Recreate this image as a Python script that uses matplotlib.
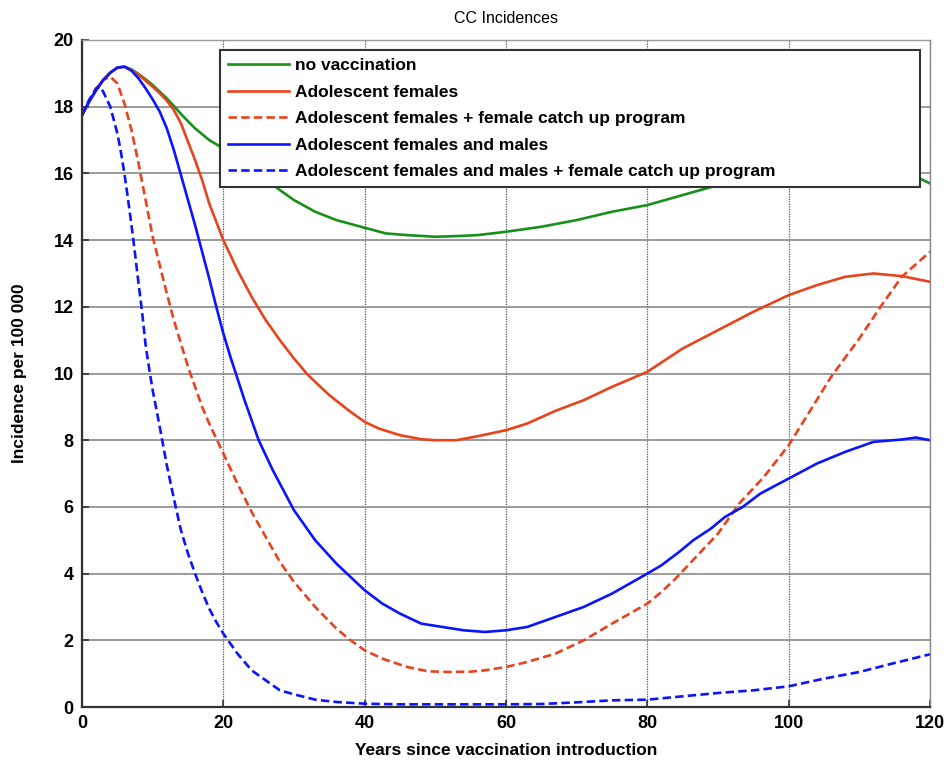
import matplotlib
matplotlib.use('Agg')
import matplotlib.pyplot as plt

plt.rcParams['font.family'] = ['Liberation Sans', 'DejaVu Sans']

# years since introduction / incidence per 100 000, one pair per scenario
no_vacc_x = [0, 1, 2, 3, 4, 5, 6, 7, 8, 9, 10, 11, 12, 13, 14, 16, 18, 20, 22, 25, 28, 30, 33, 36, 40,
             43, 46, 50, 53, 56, 60, 65, 70, 75, 80, 85, 90, 95, 100, 105, 110, 115, 118, 120]
no_vacc_y = [17.75, 18.15, 18.5, 18.8, 19.02, 19.17, 19.2, 19.12, 18.98, 18.82, 18.65, 18.45, 18.25,
             18.02, 17.78, 17.35, 17.0, 16.75, 16.45, 16.0, 15.5, 15.2, 14.85, 14.6, 14.37, 14.2, 14.15,
             14.1, 14.12, 14.15, 14.25, 14.4, 14.6, 14.85, 15.05, 15.35, 15.65, 15.85, 16.0, 16.1,
             16.1, 16.0, 15.9, 15.7]

fem_x = [0, 1, 2, 3, 4, 5, 6, 7, 8, 9, 10, 11, 12, 13, 14, 15, 16, 17, 18, 20, 22, 24, 26, 28, 30, 32,
         35, 38, 40, 42, 45, 48, 50, 53, 56, 60, 63, 67, 71, 75, 80, 85, 90, 95, 100, 104, 108, 112,
         116, 120]
fem_y = [17.75, 18.15, 18.5, 18.8, 19.02, 19.17, 19.2, 19.1, 18.96, 18.78, 18.6, 18.4, 18.18, 17.9,
         17.5, 16.95, 16.4, 15.8, 15.1, 14.0, 13.1, 12.3, 11.6, 11.0, 10.45, 9.95, 9.35, 8.85, 8.55,
         8.35, 8.15, 8.03, 8.0, 8.0, 8.12, 8.3, 8.5, 8.88, 9.2, 9.6, 10.05, 10.75, 11.3, 11.85, 12.35,
         12.65, 12.9, 13.0, 12.92, 12.75]

fem_cu_x = [0, 1, 2, 3, 4, 5, 6, 7, 8, 9, 10, 11, 12, 13, 14, 15, 16, 17, 18, 20, 22, 24, 26, 28, 30,
            33, 36, 38, 40, 42.5, 46, 49, 52, 55, 57, 60, 63, 67, 71, 75, 80, 82, 84, 86, 88, 90, 93,
            96.5, 100, 102.5, 106, 110, 113, 116, 120]
fem_cu_y = [17.75, 18.15, 18.55, 18.8, 18.9, 18.7, 18.1, 17.3, 16.3, 15.2, 14.1, 13.25, 12.4, 11.6,
            10.9, 10.2, 9.6, 9.0, 8.5, 7.6, 6.7, 5.85, 5.1, 4.35, 3.75, 3.0, 2.35, 2.0, 1.7, 1.45, 1.2,
            1.07, 1.05, 1.06, 1.1, 1.2, 1.35, 1.6, 2.0, 2.5, 3.1, 3.45, 3.85, 4.3, 4.75, 5.2, 6.1, 6.9,
            7.85, 8.7, 9.9, 11.05, 12.0, 12.9, 13.65]

fem_male_x = [0, 1, 2, 3, 4, 5, 6, 7, 8, 9, 10, 11, 12, 13, 14, 15, 16, 17, 18, 19, 20, 21, 22, 23,
              25, 27, 30, 33, 36, 38, 40, 42.5, 45, 48, 51, 54, 57, 60, 63, 67, 71, 75, 80, 82,
              84.5, 86.5, 89, 91, 93.5, 96, 100, 104, 108, 112, 116, 118, 120]
fem_male_y = [17.75, 18.15, 18.5, 18.8, 19.02, 19.17, 19.2, 19.08, 18.85, 18.55, 18.22, 17.85, 17.35,
              16.7, 15.95, 15.2, 14.45, 13.65, 12.85, 12.0, 11.2, 10.5, 9.85, 9.2, 8.0, 7.1, 5.9, 5.0,
              4.3, 3.9, 3.5, 3.1, 2.8, 2.5, 2.4, 2.3, 2.25, 2.3, 2.4, 2.7, 3.0, 3.4, 4.0, 4.25, 4.65,
              5.0, 5.35, 5.7, 6.0, 6.4, 6.85, 7.3, 7.65, 7.95, 8.02, 8.08, 8.0]

fem_male_cu_x = [0, 1, 2, 2.5, 3, 4, 4.5, 5, 5.5, 6, 6.5, 7, 7.5, 8, 8.5, 9, 9.5, 10, 11, 12, 13, 14,
                 15, 16, 17, 18, 19, 20, 22, 24, 26, 28, 30, 33, 36, 40, 45, 50, 55, 60, 65, 70, 75,
                 80, 85, 90, 95, 100, 105, 110, 115, 120]
fem_male_cu_y = [17.75, 18.2, 18.55, 18.6, 18.45, 18.0, 17.6, 17.2, 16.65, 16.0, 15.25, 14.45, 13.6,
                 12.7, 11.85, 10.85, 10.15, 9.5, 8.4, 7.25, 6.25, 5.3, 4.6, 4.0, 3.45, 2.95, 2.55, 2.2,
                 1.6, 1.1, 0.8, 0.5, 0.38, 0.22, 0.15, 0.1, 0.08, 0.08, 0.08, 0.08, 0.09, 0.14, 0.2,
                 0.22, 0.32, 0.42, 0.5, 0.62, 0.85, 1.05, 1.32, 1.58]

labels = ['no vaccination',
          'Adolescent females',
          'Adolescent females + female catch up program',
          'Adolescent females and males',
          'Adolescent females and males + female catch up program']

GREEN = '#17901a'
RED = '#e8431d'
BLUE = '#0b14ff'

fig = plt.figure(figsize=(9.52, 7.6), dpi=100)
ax = fig.add_axes([82 / 952, 53 / 760, 848 / 952, 667 / 760])

lw = 1.9
dash = (0, (3.2, 1.6))
ax.plot(no_vacc_x, no_vacc_y, color=GREEN, lw=lw, label=labels[0])
ax.plot(fem_x, fem_y, color=RED, lw=lw, label=labels[1])
ax.plot(fem_cu_x, fem_cu_y, color=RED, lw=lw, ls=dash, label=labels[2])
ax.plot(fem_male_x, fem_male_y, color=BLUE, lw=lw, label=labels[3])
ax.plot(fem_male_cu_x, fem_male_cu_y, color=BLUE, lw=lw, ls=dash, label=labels[4])

ax.set_xlim(0, 120)
ax.set_ylim(0, 20)
ax.set_xticks(range(0, 121, 20))
ax.set_yticks(range(0, 21, 2))

# horizontal grid solid grey, vertical grid fine dotted
ax.yaxis.grid(True, color='#8a8a8a', lw=1.2, ls='-')
ax.xaxis.grid(True, color='#505050', lw=0.9, ls=(0, (1, 1)))
ax.set_axisbelow(True)

for side in ['left', 'bottom']:
    ax.spines[side].set_color('#333333')
    ax.spines[side].set_linewidth(1.6)
ax.spines['top'].set_color('#999999')
ax.spines['top'].set_linewidth(1.0)
ax.spines['right'].set_color('#888888')
ax.spines['right'].set_linewidth(1.0)
ax.spines['right'].set_linestyle((0, (1, 1)))

ax.tick_params(direction='in', length=5, width=1.2, color='#333333', labelsize=13, pad=6)
for lab in ax.get_xticklabels() + ax.get_yticklabels():
    lab.set_fontweight('bold')

ax.set_title('CC Incidences', fontsize=11.5, pad=12)
ax.set_xlabel('Years since vaccination introduction', fontsize=12.5, fontweight='bold', labelpad=8)
ax.set_ylabel('Incidence per 100 000', fontsize=12.5, fontweight='bold', labelpad=19)

leg = ax.legend(loc='upper left', bbox_to_anchor=(138 / 848, 0.778, 700 / 848, 0.207), mode='expand',
                prop={'weight': 'bold', 'size': 12.5}, handlelength=3.5, handletextpad=0.35,
                labelspacing=0.66, borderpad=0.45, fancybox=False, framealpha=1.0, borderaxespad=0)
leg.get_frame().set_edgecolor('#333333')
leg.get_frame().set_linewidth(1.5)

fig.savefig('out.png', dpi=100)
